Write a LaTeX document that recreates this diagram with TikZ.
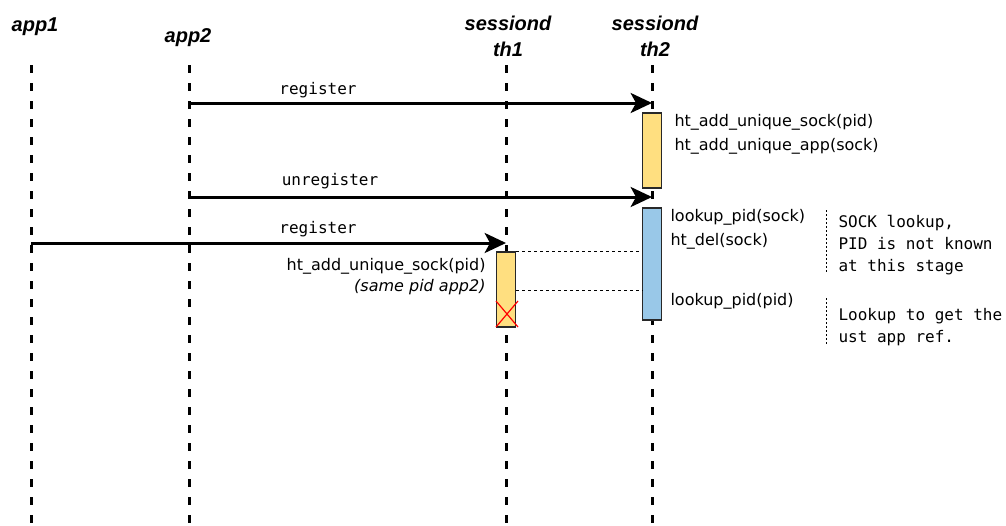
\documentclass[tikz,border=0pt]{standalone}
\usepackage{fontspec}
\setmainfont{DejaVu Sans}
\setmonofont{DejaVu Sans Mono}
\newfontfamily\headfont{Liberation Sans}
\usetikzlibrary{arrows.meta}

\definecolor{actyellow}{RGB}{255,223,128}
\definecolor{actblue}{RGB}{153,200,232}
\definecolor{actborder}{RGB}{40,40,40}

\tikzset{every picture/.style={line width=0.75pt}}
\tikzset{
  lifeline/.style={line width=2.25pt, dash pattern=on 6pt off 7.5pt},
  msg/.style={line width=2.25pt, -{Stealth[length=16pt,width=15pt,inset=4pt]}},
  msglabel/.style={font=\ttfamily\fontsize{12}{14}\selectfont, inner sep=0.75pt},
  header/.style={font=\headfont\bfseries\itshape\fontsize{15}{19.5}\selectfont, align=center, inner sep=0pt},
  callnote/.style={font=\fontsize{12}{14}\selectfont, inner sep=0.75pt},
  actbox/.style={draw=actborder, line width=1.1pt, minimum width=14.25pt, inner sep=0pt},
  syncline/.style={line width=0.75pt, dash pattern=on 2.25pt off 2.25pt},
  notebar/.style={line width=0.75pt, dash pattern=on 1.5pt off 1.5pt},
  notetext/.style={font=\ttfamily\fontsize{12}{16.5}\selectfont, align=left, inner sep=0pt}
}

\begin{document}
\begin{tikzpicture}[x=0.75pt,y=0.75pt,yscale=-1,xscale=1]
\useasboundingbox (0,0) rectangle (1006,525);

% Headers
\node (hApp1) [header] at (35,27) {app1};
\node (hApp2) [header] at (188,38) {app2};
\node (hTh1) [header] at (508,36) {sessiond\\th1};
\node (hTh2) [header] at (655,36) {sessiond\\th2};

% Lifelines
\coordinate (app1) at (31,65);
\coordinate (app1 end) at (31,525);
\coordinate (app2) at (189,65);
\coordinate (app2 end) at (189,525);
\coordinate (th1) at (506,65);
\coordinate (th1 end) at (506,525);
\coordinate (th2) at (652,65);
\coordinate (th2 end) at (652,525);
\draw [lifeline] (app1) -- (app1 end);
\draw [lifeline] (app2) -- (app2 end);
\draw [lifeline] (th1) -- (th1 end);
\draw [lifeline] (th2) -- (th2 end);

% Activation boxes
\node (addA) [actbox, fill=actyellow, minimum height=56.25pt] at (652,150.5) {};
\node (delA) [actbox, fill=actblue, minimum height=84pt] at (652,264) {};
\node (addB) [actbox, fill=actyellow, minimum height=56.25pt] at (506,289.5) {};

% Messages
\coordinate (reg2 s) at (189,103);
\coordinate (reg2 e) at (652,103);
\coordinate (unreg s) at (189,197);
\coordinate (unreg e) at (652,197);
\coordinate (reg1 s) at (31,243);
\coordinate (reg1 e) at (506,243);
\draw [msg] (reg2 s) -- (reg2 e);
\draw [msg] (unreg s) -- (unreg e);
\draw [msg] (reg1 s) -- (reg1 e);
\node (lReg2) [msglabel] at (318,90) {register};
\node (lUnreg) [msglabel] at (330,181) {unregister};
\node (lReg1) [msglabel] at (318,229) {register};

% Calls on th2
\node (cAddSock) [callnote, anchor=west] at (673,122) {ht\_add\_unique\_sock(pid)};
\node (cAddApp) [callnote, anchor=west] at (673,146) {ht\_add\_unique\_app(sock)};
\node (cLookSock) [callnote, anchor=west] at (669,217) {lookup\_pid(sock)};
\node (cDel) [callnote, anchor=west] at (669,241) {ht\_del(sock)};
\node (cLookPid) [callnote, anchor=west] at (669,301) {lookup\_pid(pid)};

% Calls on th1
\node (cAddSock2) [callnote, anchor=east] at (487,266) {ht\_add\_unique\_sock(pid)};
\node (cSame) [callnote, anchor=east, font=\itshape\fontsize{12}{14}\selectfont] at (487,287) {(same pid app2)};

% Sync lines between threads
\coordinate (sync2 a) at (516,290);
\coordinate (sync2 b) at (643,290);
\draw [syncline] (addB.north east) -- (delA.west |- addB.north east);
\draw [syncline] (sync2 a) -- (sync2 b);

% Cross on th1 box
\coordinate (xA) at (496,301);
\coordinate (xB) at (518,327);
\coordinate (xC) at (496,327);
\coordinate (xD) at (518,301);
\draw [red, line width=0.9pt] (xA) -- (xB);
\draw [red, line width=0.9pt] (xC) -- (xD);

% Notes
\coordinate (n1 top) at (826,210);
\coordinate (n1 bot) at (826,274);
\coordinate (n2 top) at (826,298);
\coordinate (n2 bot) at (826,346);
\draw [notebar] (n1 top) -- (n1 bot);
\draw [notebar] (n2 top) -- (n2 bot);
\node (nSock) [notetext, anchor=north west] at (838,215) {SOCK lookup,\\PID is not known\\at this stage};
\node (nLook) [notetext, anchor=north west] at (838,307.5) {Lookup to get the\\ust app ref.};

\end{tikzpicture}
\end{document}
